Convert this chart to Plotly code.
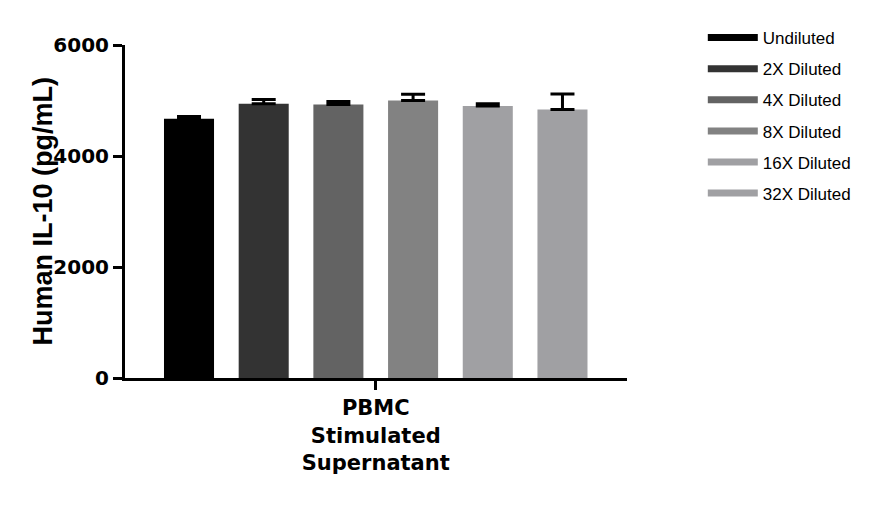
import plotly.graph_objects as go

# sample readings (pg/mL)
series = ["Undiluted", "2X Diluted", "4X Diluted", "8X Diluted", "16X Diluted", "32X Diluted"]
means = [4670, 4940, 4930, 5000, 4900, 4840]
errors = [42, 78, 54, 114, 43, 277]
colors = ["#000000", "#333333", "#636363", "#828282", "#a0a0a3", "#a0a0a3"]
group_label = "PBMC<br>Stimulated<br>Supernatant"

fig = go.Figure()

for i, (name, m, e, c) in enumerate(zip(series, means, errors, colors)):
    fig.add_trace(go.Bar(
        x=[i], y=[m], width=0.67,
        marker=dict(color=c, line=dict(width=0)),
        error_y=dict(type="data", array=[e], arrayminus=[0], symmetric=False,
                     color="black", thickness=3, width=12),
        showlegend=False, name=name,
    ))
    # wide flat legend glyphs like the original
    fig.add_trace(go.Scatter(
        x=[None], y=[None], mode="lines", name=name,
        line=dict(color=c, width=7), legendgroup=name,
    ))

# page has an 8px body margin, so the figure is 8px smaller than the window
fig.update_layout(
    width=873, height=498,
    margin=dict(l=117, r=254, t=37, b=128),
    plot_bgcolor="white", paper_bgcolor="white",
    barmode="overlay",
    xaxis=dict(
        range=[-0.857, 5.864], showgrid=False, zeroline=False,
        showline=True, linecolor="black", linewidth=3,
        tickmode="array", tickvals=[2.5], ticktext=[group_label],
        ticks="outside", ticklen=9, tickwidth=3, tickcolor="black",
        tickfont=dict(family="DejaVu Sans", size=21, color="black", weight="bold"),
    ),
    yaxis=dict(
        range=[0, 6000], showgrid=False, zeroline=False,
        showline=True, linecolor="black", linewidth=3,
        tickvals=[0, 2000, 4000, 6000],
        ticks="outside", ticklen=9, tickwidth=3, tickcolor="black",
        tickfont=dict(family="DejaVu Sans", size=20, color="black", weight="bold"),
    ),
    legend=dict(
        x=1.151, y=1.075, xanchor="left", yanchor="top",
        font=dict(family="Liberation Sans", size=17, color="black"),
        itemwidth=50, tracegroupgap=6, bgcolor="rgba(0,0,0,0)",
    ),
    annotations=[dict(
        text="Human IL-10 (pg/mL)", textangle=-90,
        xref="paper", yref="paper", x=0, y=0.5,
        xanchor="center", yanchor="middle", xshift=-83, showarrow=False,
        font=dict(family="Liberation Sans", size=27, color="black", weight="bold"),
    )],
)

fig.write_html("out.html")
